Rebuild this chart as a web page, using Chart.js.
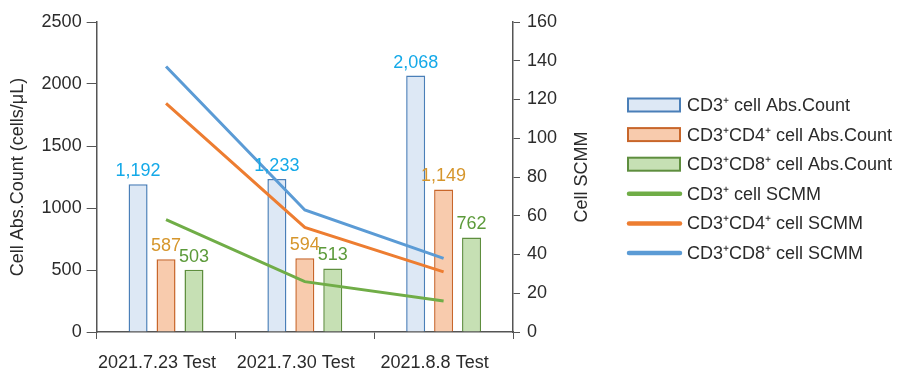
<!DOCTYPE html>
<html>
<head>
<meta charset="utf-8">
<script src="https://cdn.jsdelivr.net/npm/chart.js@4.4.0/dist/chart.umd.min.js"></script>
<style>
html, body { margin: 0; padding: 0; background: #fff; }
</style>
</head>
<body>
<canvas id="cell_chart" width="902" height="371"></canvas>
<script>
var categories = ["2021.7.23 Test", "2021.7.30 Test", "2021.8.8 Test"];

// bar values, left axis (cells/uL)
var cd3Count = [1192, 1233, 2068];
var cd4Count = [587, 594, 1149];
var cd8Count = [503, 513, 762];

// line values, right axis
var cd3Scmm = [58, 26, 16];
var cd4Scmm = [118, 54, 31];
var cd8Scmm = [137, 63, 38];

var countTicks = [0, 500, 1000, 1500, 2000, 2500];
var scmmTicks = [0, 20, 40, 60, 80, 100, 120, 140, 160];

var fontName = "'Liberation Sans', Arial, sans-serif";
var textColor = "#2b2b2b";
var axisColor = "#555555";

// value labels above the bars
var barLabels = {
    id: 'barLabels',
    afterDatasetsDraw: function(chart) {
        var ctx = chart.ctx;
        ctx.save();
        ctx.font = "18px " + fontName;
        ctx.textAlign = "center";
        ctx.textBaseline = "bottom";
        chart.data.datasets.forEach(function(ds, i) {
            if (ds.type !== 'bar') return;
            var meta = chart.getDatasetMeta(i);
            ctx.fillStyle = ds.labelColor;
            meta.data.forEach(function(bar, j) {
                ctx.fillText(ds.data[j].toLocaleString('en-US'), bar.x, bar.y - 4);
            });
        });
        ctx.restore();
    }
};

// right axis title (reads bottom to top) and the legend at the right
var sideDecor = {
    id: 'sideDecor',
    afterDraw: function(chart) {
        var ctx = chart.ctx;
        var sc = chart.scales.y1;
        var area = chart.chartArea;
        ctx.save();
        ctx.translate(sc.left + 69, (area.top + area.bottom) / 2);
        ctx.rotate(-Math.PI / 2);
        ctx.font = "18px " + fontName;
        ctx.fillStyle = textColor;
        ctx.textAlign = "center";
        ctx.textBaseline = "middle";
        ctx.fillText("Cell SCMM", 0, 0);
        ctx.restore();

        // legend
        var x0 = sc.right + 12;
        var y0 = 105;
        var step = 29.6;
        ctx.save();
        ctx.font = "18px " + fontName;
        ctx.textBaseline = "middle";
        ctx.textAlign = "left";
        chart.data.datasets.forEach(function(ds, i) {
            var y = y0 + i * step;
            if (ds.type === 'line') {
                ctx.strokeStyle = ds.borderColor;
                ctx.lineWidth = 4.5;
                ctx.lineCap = 'round';
                ctx.beginPath();
                ctx.moveTo(x0 + 1, y);
                ctx.lineTo(x0 + 52, y);
                ctx.stroke();
            } else {
                ctx.fillStyle = ds.backgroundColor;
                ctx.strokeStyle = ds.borderColor;
                ctx.lineWidth = 2;
                ctx.fillRect(x0, y - 6.5, 52, 13);
                ctx.strokeRect(x0, y - 6.5, 52, 13);
            }
            ctx.fillStyle = textColor;
            ctx.fillText(ds.label, x0 + 59, y + 1);
        });
        ctx.restore();
    }
};

var ctxCell = document.getElementById("cell_chart").getContext("2d");

var cell_chart = new Chart(ctxCell, {
    type: 'bar',
    data: {
        labels: categories,
        datasets: [{
            type: 'bar',
            label: 'CD3\u207A cell Abs.Count',
            data: cd3Count,
            backgroundColor: '#dde8f5',
            borderColor: '#4a7fb8',
            labelColor: '#14a9e8',
            borderWidth: 1.5,
            yAxisID: 'y',
            order: 1
        }, {
            type: 'bar',
            label: 'CD3\u207ACD4\u207A cell Abs.Count',
            data: cd4Count,
            backgroundColor: '#f8cbad',
            borderColor: '#c8662a',
            labelColor: '#d6962c',
            borderWidth: 1.5,
            yAxisID: 'y',
            order: 1
        }, {
            type: 'bar',
            label: 'CD3\u207ACD8\u207A cell Abs.Count',
            data: cd8Count,
            backgroundColor: '#c6e0b4',
            borderColor: '#5e8e3e',
            labelColor: '#5c9a3a',
            borderWidth: 1.5,
            yAxisID: 'y',
            order: 1
        }, {
            type: 'line',
            label: 'CD3\u207A cell SCMM',
            data: cd3Scmm,
            borderColor: '#70ad47',
            borderWidth: 3,
            pointRadius: 0,
            tension: 0,
            yAxisID: 'y1',
            order: 0
        }, {
            type: 'line',
            label: 'CD3\u207ACD4\u207A cell SCMM',
            data: cd4Scmm,
            borderColor: '#ed7d31',
            borderWidth: 3,
            pointRadius: 0,
            tension: 0,
            yAxisID: 'y1',
            order: 0
        }, {
            type: 'line',
            label: 'CD3\u207ACD8\u207A cell SCMM',
            data: cd8Scmm,
            borderColor: '#5b9bd5',
            borderWidth: 3,
            pointRadius: 0,
            tension: 0,
            yAxisID: 'y1',
            order: 0
        }]
    },
    options: {
        responsive: false,
        animation: false,
        devicePixelRatio: 1,
        layout: { padding: { top: 22, left: 4, right: 286, bottom: 0 } },
        datasets: {
            bar: { categoryPercentage: 0.604, barPercentage: 0.68 }
        },
        plugins: {
            tooltip: { enabled: false },
            legend: { display: false }
        },
        scales: {
            x: {
                afterFit: function(scale) { scale.height = 39; },
                grid: { drawOnChartArea: false, drawTicks: true, tickLength: 7, color: axisColor, offset: true },
                border: { color: axisColor, width: 1.5 },
                ticks: { color: textColor, font: { family: fontName, size: 18 }, padding: 13, labelOffset: -9, maxRotation: 0 }
            },
            y: {
                position: 'left',
                min: countTicks[0],
                max: countTicks[countTicks.length - 1],
                afterBuildTicks: function(scale) {
                    scale.ticks = countTicks.map(function(v) { return { value: v }; });
                },
                grid: { drawOnChartArea: false, drawTicks: true, tickLength: 10, color: axisColor },
                border: { color: axisColor, width: 1.5 },
                ticks: {
                    color: textColor, font: { family: fontName, size: 18 }, padding: 5,
                    callback: function(v) { return String(v); }
                },
                title: {
                    display: true,
                    text: 'Cell Abs.Count (cells/\u03BCL)',
                    color: textColor,
                    font: { family: fontName, size: 18 },
                    padding: { top: 3, bottom: 8 }
                }
            },
            y1: {
                position: 'right',
                min: scmmTicks[0],
                max: scmmTicks[scmmTicks.length - 1],
                afterBuildTicks: function(scale) {
                    scale.ticks = scmmTicks.map(function(v) { return { value: v }; });
                },
                afterFit: function(scale) { scale.width = 103; },
                grid: { drawOnChartArea: false, drawTicks: true, tickLength: 7, color: axisColor },
                border: { color: axisColor, width: 1.5 },
                ticks: {
                    color: textColor, font: { family: fontName, size: 18 }, padding: 7,
                    callback: function(v) { return String(v); }
                }
            }
        }
    },
    plugins: [barLabels, sideDecor]
});
</script>
</body>
</html>
